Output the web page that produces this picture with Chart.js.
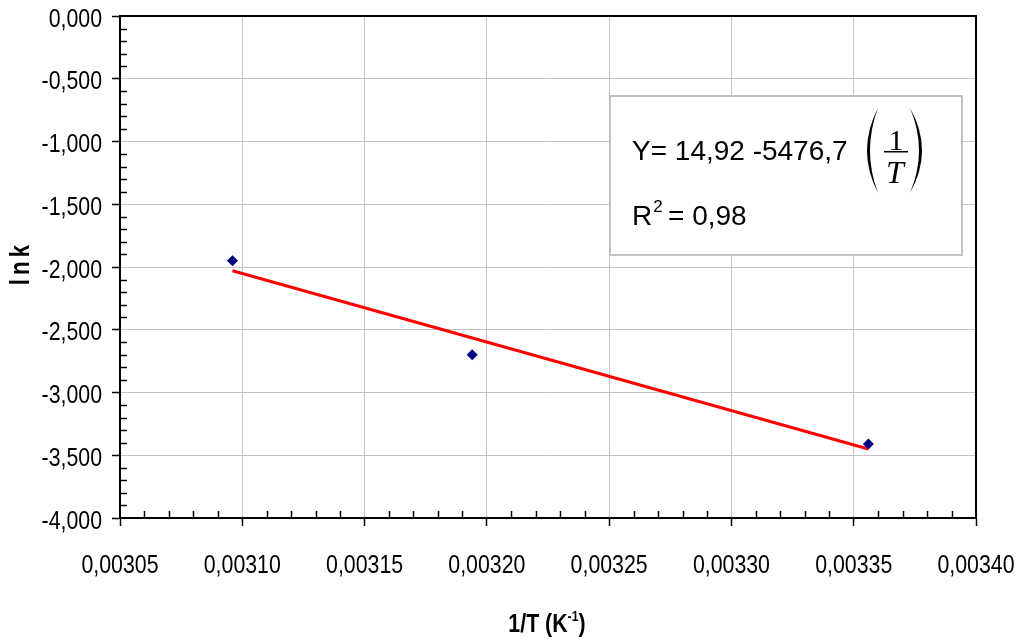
<!DOCTYPE html>
<html>
<head>
<meta charset="utf-8">
<script src="https://cdn.jsdelivr.net/npm/chart.js@4.4.1/dist/chart.umd.min.js"></script>
<style>
  html, body { margin: 0; padding: 0; background: #fff; }
  canvas { display: block; }
</style>
</head>
<body>
<canvas id="chart" width="1018" height="639"></canvas>
<script>
// values
const X_VALUES = [0.003096, 0.003194, 0.003356];
const LNK_VALUES = [-1.95, -2.70, -3.41];
const TREND_X = [0.003096, 0.003356];
const TREND_Y = [-2.03, -3.45];
const X_TICKS = [0.00305, 0.00310, 0.00315, 0.00320, 0.00325, 0.00330, 0.00335, 0.00340];
const Y_TICKS = [0, -0.5, -1, -1.5, -2, -2.5, -3, -3.5, -4];
const EQUATION_TEXT = "Y= 14,92 -5476,7";
const R2_TEXT = "= 0,98";

const SANS = "'Liberation Sans', Arial, sans-serif";
const SERIF = "'Liberation Serif', 'Times New Roman', serif";
const NARROW = 0.82; // no Arial Narrow installed, squeeze Arial instead

const comma = (v, digits) => v.toFixed(digits).replace(".", ",");

// draw text squeezed horizontally, like a narrow face
function narrowText(ctx, text, x, y, align) {
  ctx.save();
  ctx.translate(x, y);
  ctx.scale(NARROW, 1);
  ctx.textAlign = align;
  ctx.fillText(text, 0, 0);
  ctx.restore();
}

// tick labels, minor ticks, frame, axis titles and the equation box
const decorations = {
  id: "decorations",
  afterDraw(chart) {
    const { ctx, chartArea: area, scales } = chart;
    const x = scales.x, y = scales.y;
    ctx.save();

    // tick labels placed by the scales
    ctx.fillStyle = "#000";
    ctx.font = "26px " + SANS;
    ctx.textBaseline = "alphabetic";
    X_TICKS.forEach((v) => narrowText(ctx, comma(v, 5), x.getPixelForValue(v), 573, "center"));
    Y_TICKS.forEach((v) => narrowText(ctx, comma(v, 3), 102, y.getPixelForValue(v) + 10.5, "right"));

    // minor ticks inside the plot
    ctx.strokeStyle = "#000";
    ctx.lineWidth = 1.5;
    ctx.beginPath();
    for (let i = 0; i < X_TICKS.length - 1; i++) {
      const step = (X_TICKS[i + 1] - X_TICKS[i]) / 5;
      for (let k = 1; k < 5; k++) {
        const px = Math.round(x.getPixelForValue(X_TICKS[i] + step * k)) + 0.5;
        ctx.moveTo(px, area.bottom);
        ctx.lineTo(px, area.bottom - 7);
      }
    }
    for (let i = 0; i < Y_TICKS.length - 1; i++) {
      const step = (Y_TICKS[i + 1] - Y_TICKS[i]) / 5;
      for (let k = 1; k < 5; k++) {
        const py = Math.round(y.getPixelForValue(Y_TICKS[i] + step * k)) + 0.5;
        ctx.moveTo(area.left, py);
        ctx.lineTo(area.left + 7, py);
      }
    }
    ctx.stroke();

    // top and right frame
    ctx.lineWidth = 2;
    ctx.beginPath();
    ctx.moveTo(area.left, area.top);
    ctx.lineTo(area.right, area.top);
    ctx.lineTo(area.right, area.bottom);
    ctx.stroke();

    // y title
    ctx.save();
    ctx.translate(22, 265);
    ctx.rotate(-Math.PI / 2);
    ctx.font = "bold 27px " + SANS;
    ctx.textBaseline = "middle";
    ctx.letterSpacing = "5px";
    narrowText(ctx, "lnk", 2, 0, "center");
    ctx.restore();

    // x title with superscript
    const big = "bold 26px " + SANS, small = "bold 15px " + SANS;
    ctx.textBaseline = "alphabetic";
    ctx.font = big;
    const w1 = ctx.measureText("1/T (K").width * NARROW;
    const w3 = ctx.measureText(")").width * NARROW;
    ctx.font = small;
    const w2 = ctx.measureText("-1").width * NARROW;
    const tx = 547 - (w1 + w2 + w3) / 2;
    const base = 632;
    ctx.font = big;
    narrowText(ctx, "1/T (K", tx, base, "left");
    ctx.font = small;
    narrowText(ctx, "-1", tx + w1, base - 11, "left");
    ctx.font = big;
    narrowText(ctx, ")", tx + w1 + w2, base, "left");

    // equation box
    ctx.fillStyle = "#fff";
    ctx.fillRect(610, 96, 352, 159);
    ctx.strokeStyle = "#c0c0c0";
    ctx.lineWidth = 2;
    ctx.strokeRect(610, 96, 352, 159);
    ctx.fillStyle = "#000";
    ctx.textAlign = "left";
    ctx.font = "28px " + SANS;
    ctx.fillText(EQUATION_TEXT, 632, 160);
    ctx.fillText("R", 632, 225);
    const rw = ctx.measureText("R").width;
    ctx.font = "17px " + SANS;
    ctx.fillText("2", 632 + rw + 1, 212);
    ctx.font = "28px " + SANS;
    ctx.fillText(R2_TEXT, 668, 225);

    // fraction (1/T) in serif
    ctx.textAlign = "center";
    ctx.font = "30px " + SERIF;
    ctx.fillText("1", 896, 150);
    ctx.font = "italic 32px " + SERIF;
    ctx.fillText("T", 895, 183);
    ctx.fillRect(884, 151, 24, 1.5);
    const paren = (xe, outer, inner) => {
      ctx.beginPath();
      ctx.moveTo(xe, 108);
      ctx.quadraticCurveTo(outer, 150.5, xe, 193);
      ctx.quadraticCurveTo(inner, 150.5, xe, 108);
      ctx.fill();
    };
    paren(878, 856, 862);
    paren(910, 934, 928);
    ctx.restore();
  }
};

new Chart(document.getElementById("chart"), {
  type: "scatter",
  data: {
    datasets: [
      {
        data: X_VALUES.map((v, i) => ({ x: v, y: LNK_VALUES[i] })),
        pointStyle: "rectRot",
        pointRadius: 5.5,
        backgroundColor: "#000080",
        borderColor: "#000080",
        borderWidth: 0,
        showLine: false,
      },
      {
        data: TREND_X.map((v, i) => ({ x: v, y: TREND_Y[i] })),
        showLine: true,
        borderColor: "#ff0000",
        borderWidth: 3,
        pointRadius: 0,
      },
    ],
  },
  options: {
    responsive: false,
    animation: false,
    layout: { padding: { left: 0, top: 16, right: 42, bottom: 0 } },
    plugins: { legend: { display: false }, tooltip: { enabled: false } },
    scales: {
      x: {
        type: "linear",
        min: X_TICKS[0],
        max: X_TICKS[X_TICKS.length - 1],
        afterBuildTicks: (s) => { s.ticks = X_TICKS.map((v) => ({ value: v })); },
        afterFit: (s) => { s.height = 121; },
        grid: { color: "#c4c4c4", lineWidth: 1, tickColor: "#000", tickWidth: 1.5, tickLength: 8 },
        border: { color: "#000", width: 2 },
        ticks: { display: false },
      },
      y: {
        type: "linear",
        min: Y_TICKS[Y_TICKS.length - 1],
        max: Y_TICKS[0],
        afterBuildTicks: (s) => { s.ticks = Y_TICKS.map((v) => ({ value: v })); },
        afterFit: (s) => { s.width = 120; },
        grid: { color: "#c4c4c4", lineWidth: 1, tickColor: "#000", tickWidth: 1.5, tickLength: 8 },
        border: { color: "#000", width: 2 },
        ticks: { display: false },
      },
    },
  },
  plugins: [decorations],
});
</script>
</body>
</html>
